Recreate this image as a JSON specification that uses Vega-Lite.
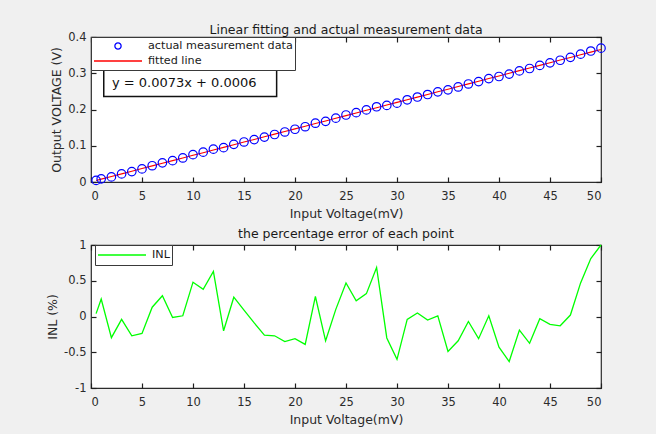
{
  "$schema": "https://vega.github.io/schema/vega-lite/v6.json",
  "background": "#f0f0f0",
  "padding": {"left": 45, "top": 22, "right": 60, "bottom": 20},
  "spacing": 5,
  "resolve": {"scale": {"color": "independent"}, "legend": {"color": "independent"}},
  "datasets": {
    "points": [
      {"x": 0.5, "fit": 0.00425, "measured": 0.0044, "inl": 0.04},
      {"x": 1, "fit": 0.0079, "measured": 0.0088, "inl": 0.245},
      {"x": 2, "fit": 0.0152, "measured": 0.0141, "inl": -0.296},
      {"x": 3, "fit": 0.0225, "measured": 0.0224, "inl": -0.04},
      {"x": 4, "fit": 0.0298, "measured": 0.0288, "inl": -0.27},
      {"x": 5, "fit": 0.0371, "measured": 0.0362, "inl": -0.236},
      {"x": 6, "fit": 0.0444, "measured": 0.0449, "inl": 0.13},
      {"x": 7, "fit": 0.0517, "measured": 0.0528, "inl": 0.29},
      {"x": 8, "fit": 0.059, "measured": 0.0589, "inl": -0.014},
      {"x": 9, "fit": 0.0663, "measured": 0.0663, "inl": 0.01},
      {"x": 10, "fit": 0.0736, "measured": 0.0754, "inl": 0.48},
      {"x": 11, "fit": 0.0809, "measured": 0.0823, "inl": 0.38},
      {"x": 12, "fit": 0.0882, "measured": 0.0905, "inl": 0.63},
      {"x": 13, "fit": 0.0955, "measured": 0.0948, "inl": -0.2},
      {"x": 14, "fit": 0.1028, "measured": 0.1038, "inl": 0.27},
      {"x": 15, "fit": 0.1101, "measured": 0.1104, "inl": 0.09},
      {"x": 16, "fit": 0.1174, "measured": 0.1171, "inl": -0.09},
      {"x": 17, "fit": 0.1247, "measured": 0.1238, "inl": -0.26},
      {"x": 18, "fit": 0.132, "measured": 0.131, "inl": -0.27},
      {"x": 19, "fit": 0.1393, "measured": 0.138, "inl": -0.35},
      {"x": 20, "fit": 0.1466, "measured": 0.1455, "inl": -0.31},
      {"x": 21, "fit": 0.1539, "measured": 0.1525, "inl": -0.39},
      {"x": 22, "fit": 0.1612, "measured": 0.1622, "inl": 0.28},
      {"x": 23, "fit": 0.1685, "measured": 0.1673, "inl": -0.34},
      {"x": 24, "fit": 0.1758, "measured": 0.1762, "inl": 0.1},
      {"x": 25, "fit": 0.1831, "measured": 0.1848, "inl": 0.47},
      {"x": 26, "fit": 0.1904, "measured": 0.1912, "inl": 0.22},
      {"x": 27, "fit": 0.1977, "measured": 0.1989, "inl": 0.32},
      {"x": 28, "fit": 0.205, "measured": 0.2075, "inl": 0.685},
      {"x": 29, "fit": 0.2123, "measured": 0.2112, "inl": -0.3},
      {"x": 30, "fit": 0.2196, "measured": 0.2174, "inl": -0.6},
      {"x": 31, "fit": 0.2269, "measured": 0.2268, "inl": -0.04},
      {"x": 32, "fit": 0.2342, "measured": 0.2344, "inl": 0.05},
      {"x": 33, "fit": 0.2415, "measured": 0.2413, "inl": -0.05},
      {"x": 34, "fit": 0.2488, "measured": 0.2488, "inl": 0.01},
      {"x": 35, "fit": 0.2561, "measured": 0.2543, "inl": -0.49},
      {"x": 36, "fit": 0.2634, "measured": 0.2622, "inl": -0.34},
      {"x": 37, "fit": 0.2707, "measured": 0.2704, "inl": -0.07},
      {"x": 38, "fit": 0.278, "measured": 0.2769, "inl": -0.31},
      {"x": 39, "fit": 0.2853, "measured": 0.2853, "inl": 0.01},
      {"x": 40, "fit": 0.2926, "measured": 0.291, "inl": -0.43},
      {"x": 41, "fit": 0.2999, "measured": 0.2976, "inl": -0.63},
      {"x": 42, "fit": 0.3072, "measured": 0.3065, "inl": -0.19},
      {"x": 43, "fit": 0.3145, "measured": 0.3131, "inl": -0.375},
      {"x": 44, "fit": 0.3218, "measured": 0.3217, "inl": -0.03},
      {"x": 45, "fit": 0.3291, "measured": 0.3287, "inl": -0.11},
      {"x": 46, "fit": 0.3364, "measured": 0.3359, "inl": -0.13},
      {"x": 47, "fit": 0.3437, "measured": 0.3438, "inl": 0.02},
      {"x": 48, "fit": 0.351, "measured": 0.3527, "inl": 0.47},
      {"x": 49, "fit": 0.3583, "measured": 0.3613, "inl": 0.81},
      {"x": 50, "fit": 0.3656, "measured": 0.3693, "inl": 1.0}
    ]
  },
  "config": {
    "font": "DejaVu Sans",
    "view": {"fill": "white", "stroke": "#2b2b2b", "strokeWidth": 1.2},
    "axis": {
      "grid": false,
      "domain": false,
      "tickSize": -5,
      "tickColor": "#1f1f1f",
      "tickWidth": 1.2,
      "labelFont": "DejaVu Sans",
      "labelFontSize": 11.5,
      "labelColor": "#2b2b2b",
      "titleFont": "DejaVu Sans",
      "titleFontSize": 12.5,
      "titleFontWeight": "normal",
      "titleColor": "#2b2b2b",
      "titlePadding": 4
    },
    "axisX": {"labelPadding": 13, "titlePadding": 6},
    "axisY": {"labelPadding": 10},
    "title": {
      "font": "DejaVu Sans",
      "fontSize": 12.5,
      "fontWeight": "normal",
      "color": "#1a1a1a",
      "anchor": "middle"
    },
    "legend": {
      "title": null,
      "orient": "none",
      "fillColor": "white",
      "strokeColor": "#3a3a3a",
      "strokeWidth": 1,
      "padding": 2,
      "rowPadding": 1,
      "labelFont": "DejaVu Sans",
      "labelFontSize": 11.2,
      "labelColor": "#1a1a1a",
      "labelOffset": 5,
      "symbolStrokeWidth": 1.3
    }
  },
  "vconcat": [
    {
      "title": {"text": "Linear fitting and actual measurement data", "offset": -5},
      "width": 510,
      "height": 145,
      "resolve": {"axis": {"x": "independent", "y": "independent"}},
      "layer": [
        {
          "data": {"name": "points"},
          "mark": {"type": "line", "strokeWidth": 1.1},
          "encoding": {
            "x": {
              "field": "x", "type": "quantitative",
              "scale": {"domain": [0, 50], "nice": false, "zero": false},
              "axis": {"orient": "bottom", "title": "Input Voltage(mV)", "values": [0, 5, 10, 15, 20, 25, 30, 35, 40, 45, 50]}
            },
            "y": {
              "field": "fit", "type": "quantitative",
              "scale": {"domain": [0, 0.4], "nice": false},
              "axis": {"orient": "left", "title": "Output VOLTAGE (V)", "values": [0, 0.1, 0.2, 0.3, 0.4], "labelExpr": "'' + datum.value"}
            },
            "color": {
              "datum": "fitted line",
              "scale": {"domain": ["actual measurement data", "fitted line"], "range": ["#0000ff", "#ff0000"]},
              "legend": {
                "legendX": 0,
                "legendY": 0,
                "clipHeight": 14,
                "symbolSize": 2304,
                "zindex": 2,
                "encode": {
                  "symbols": {
                    "update": {
                      "shape": {"signal": "datum.value === 'fitted line' ? 'stroke' : 'M0.13,0A0.13,0.13,0,1,1,-0.13,0A0.13,0.13,0,1,1,0.13,0Z'"},
                      "size": {"value": 2304},
                      "fill": {"value": "transparent"}
                    }
                  }
                }
              }
            }
          }
        },
        {
          "data": {"name": "points"},
          "mark": {"type": "point", "shape": "circle", "filled": false, "size": 72, "strokeWidth": 1.2, "opacity": 1},
          "encoding": {
            "x": {
              "field": "x", "type": "quantitative",
              "axis": {"orient": "top", "title": null, "labels": false, "values": [0, 5, 10, 15, 20, 25, 30, 35, 40, 45, 50]}
            },
            "y": {
              "field": "measured", "type": "quantitative",
              "axis": {"orient": "right", "title": null, "labels": false, "values": [0, 0.1, 0.2, 0.3, 0.4]}
            },
            "color": {"datum": "actual measurement data"}
          }
        },
        {
          "data": {"values": [{"equation": "y = 0.0073x + 0.0006"}]},
          "mark": {"type": "rect", "fill": "white", "stroke": "#111111", "strokeWidth": 1.5},
          "encoding": {
            "x": {"datum": 1.25, "type": "quantitative", "axis": null},
            "x2": {"datum": 18.2},
            "y": {"datum": 0.236, "type": "quantitative", "axis": null},
            "y2": {"datum": 0.311}
          }
        },
        {
          "data": {"values": [{"equation": "y = 0.0073x + 0.0006"}]},
          "mark": {"type": "text", "align": "left", "baseline": "middle", "fontSize": 13, "color": "#111111"},
          "encoding": {
            "x": {"datum": 2.05, "type": "quantitative", "axis": null},
            "y": {"datum": 0.273, "type": "quantitative", "axis": null},
            "text": {"field": "equation"}
          }
        }
      ]
    },
    {
      "title": {"text": "the percentage error of each point", "offset": -1},
      "width": 510,
      "height": 143,
      "data": {"name": "points"},
      "resolve": {"axis": {"x": "independent", "y": "independent"}},
      "layer": [
        {
          "mark": {"type": "line", "strokeWidth": 1.3},
          "encoding": {
            "x": {
              "field": "x", "type": "quantitative",
              "scale": {"domain": [0, 50], "nice": false, "zero": false},
              "axis": {"orient": "bottom", "title": "Input Voltage(mV)", "values": [0, 5, 10, 15, 20, 25, 30, 35, 40, 45, 50]}
            },
            "y": {
              "field": "inl", "type": "quantitative",
              "scale": {"domain": [-1, 1], "nice": false},
              "axis": {"orient": "left", "title": "INL (%)", "values": [-1, -0.5, 0, 0.5, 1], "labelExpr": "'' + datum.value"}
            },
            "color": {
              "datum": "INL",
              "scale": {"domain": ["INL"], "range": ["#00ff00"]},
              "legend": {
                "legendX": 4,
                "legendY": 0,
                "clipHeight": 16,
                "symbolType": "stroke",
                "symbolSize": 2304
              }
            }
          }
        },
        {
          "mark": {"type": "line", "strokeWidth": 0, "opacity": 0},
          "encoding": {
            "x": {
              "field": "x", "type": "quantitative",
              "axis": {"orient": "top", "title": null, "labels": false, "values": [0, 5, 10, 15, 20, 25, 30, 35, 40, 45, 50]}
            },
            "y": {
              "field": "inl", "type": "quantitative",
              "axis": {"orient": "right", "title": null, "labels": false, "values": [-1, -0.5, 0, 0.5, 1]}
            }
          }
        }
      ]
    }
  ]
}
